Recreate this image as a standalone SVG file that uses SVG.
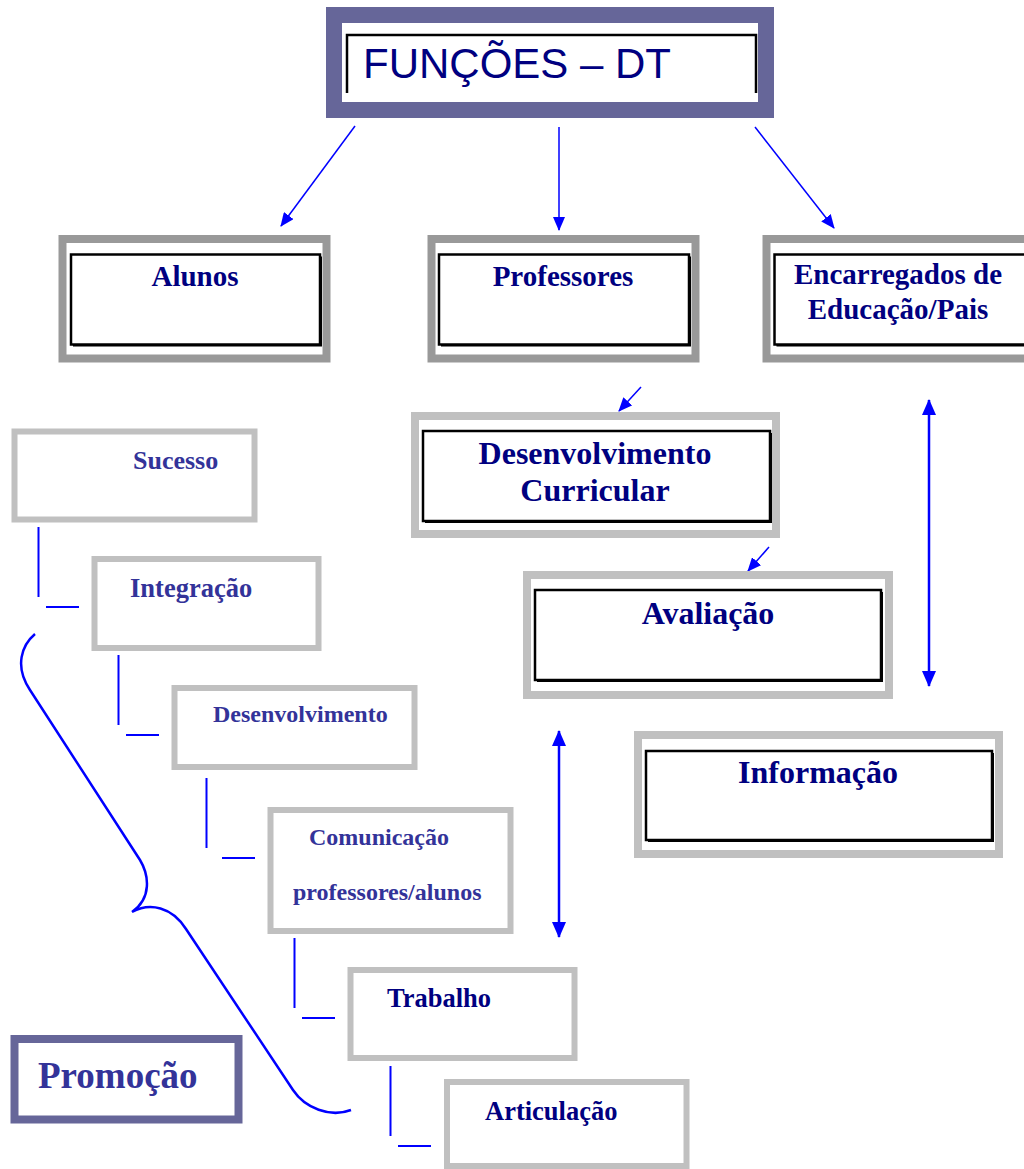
<svg xmlns="http://www.w3.org/2000/svg" width="1024" height="1169" viewBox="0 0 1024 1169">
<style>
  .frameP { fill: none; stroke: #666699; }
  .frameD { fill: #ffffff; stroke: #999999; stroke-width: 8; }
  .frameL { fill: #ffffff; stroke: #c0c0c0; stroke-width: 8; }
  .frameS { fill: #ffffff; stroke: #c0c0c0; stroke-width: 6; }
  .inner { fill: #ffffff; stroke: #000000; stroke-width: 2.5; }
  .shadow { fill: #000000; }
  .t { font-family: "Liberation Serif", "Times New Roman", serif; font-weight: bold; }
  .navy { fill: #000080; }
  .slate { fill: #333399; }
  .arr { stroke: #0000ff; stroke-width: 1.5; fill: none; }
  .dbl { stroke: #0000ff; stroke-width: 2.5; fill: none; }
  .tree { stroke: #0000ff; stroke-width: 2; fill: none; }
  .brace { stroke: #0000ff; stroke-width: 2.5; fill: none; }
</style>
<defs>
  <marker id="ah" markerUnits="userSpaceOnUse" markerWidth="14" markerHeight="12" viewBox="0 0 14 12" refX="13" refY="6" orient="auto">
    <path d="M0,0 L14,6 L0,12 Z" fill="#0000ff"/>
  </marker>
  <marker id="ahb" markerUnits="userSpaceOnUse" markerWidth="16" markerHeight="14" viewBox="0 0 16 14" refX="15" refY="7" orient="auto">
    <path d="M0,0 L16,7 L0,14 Z" fill="#0000ff"/>
  </marker>
  <marker id="ahbs" markerUnits="userSpaceOnUse" markerWidth="16" markerHeight="14" viewBox="0 0 16 14" refX="1" refY="7" orient="auto">
    <path d="M16,0 L0,7 L16,14 Z" fill="#0000ff"/>
  </marker>
</defs>
<rect width="1024" height="1169" fill="#ffffff"/>

<g id="connectors">
  <line class="arr" x1="355" y1="126" x2="281" y2="226" marker-end="url(#ah)"/>
  <line class="arr" x1="559" y1="127" x2="559" y2="230" marker-end="url(#ah)"/>
  <line class="arr" x1="755" y1="127" x2="834" y2="228" marker-end="url(#ah)"/>
  <line class="arr" x1="641" y1="387" x2="619" y2="411" marker-end="url(#ah)"/>
  <line class="arr" x1="769" y1="547" x2="748" y2="571" marker-end="url(#ah)"/>
  <line class="dbl" x1="929" y1="400" x2="929" y2="686" marker-start="url(#ahbs)" marker-end="url(#ahb)"/>
  <line class="dbl" x1="559" y1="731" x2="559" y2="937" marker-start="url(#ahbs)" marker-end="url(#ahb)"/>
  <path class="tree" d="M38.5,527 V597 M46,607 H79"/>
  <path class="tree" d="M118.5,655 V725 M126,735 H159"/>
  <path class="tree" d="M206.5,778 V848 M222,858 H255"/>
  <path class="tree" d="M294.5,938 V1008 M302,1018 H335"/>
  <path class="tree" d="M390.5,1066 V1136 M398,1146 H431"/>
  <path class="brace" d="M35,634 C22,645 14,666 30,690 L140,860 C149,875 152,898 132,912 C150,902 172,907 186,929 L293,1090 C305,1108 330,1118 351,1110"/>
</g>

<g id="node-funcoes">
  <rect class="frameP" x="334" y="15" width="432" height="95" stroke-width="16"/>
  <path d="M347,93 V35 H756 V93" fill="none" stroke="#000000" stroke-width="2.5"/>
  <text x="363" y="78" font-family="Liberation Sans, Arial, sans-serif" font-size="42" fill="#000080">FUNÇÕES – DT</text>
</g>

<g id="node-alunos">
  <rect class="frameD" x="62.5" y="239" width="264" height="119.5"/>
  <rect class="shadow" x="73" y="256.5" width="249" height="90"/>
  <rect class="inner" x="71" y="254.5" width="249" height="90"/>
  <text class="t navy" x="195" y="286" font-size="29" text-anchor="middle">Alunos</text>
</g>

<g id="node-professores">
  <rect class="frameD" x="431.5" y="239" width="264" height="119.5"/>
  <rect class="shadow" x="441" y="256.5" width="250" height="90"/>
  <rect class="inner" x="439" y="254.5" width="250" height="90"/>
  <text class="t navy" x="563" y="286" font-size="29" text-anchor="middle">Professores</text>
</g>

<g id="node-encarregados">
  <rect class="frameD" x="766.5" y="239" width="280" height="119.5"/>
  <rect class="shadow" x="776.5" y="256.5" width="260" height="90"/>
  <rect class="inner" x="774.5" y="254.5" width="260" height="90"/>
  <text class="t navy" x="898" y="284" font-size="29" text-anchor="middle">Encarregados de</text>
  <text class="t navy" x="898" y="319" font-size="29" text-anchor="middle">Educação/Pais</text>
</g>

<g id="node-desenvolvimento-curricular">
  <rect class="frameL" x="415" y="416" width="361" height="118"/>
  <rect class="shadow" x="425" y="433" width="347" height="90"/>
  <rect class="inner" x="423" y="431" width="347" height="90"/>
  <text class="t navy" x="595" y="464" font-size="32" text-anchor="middle">Desenvolvimento</text>
  <text class="t navy" x="595" y="501" font-size="32" text-anchor="middle">Curricular</text>
</g>

<g id="node-avaliacao">
  <rect class="frameL" x="527" y="575" width="362" height="120"/>
  <rect class="shadow" x="537" y="592" width="346" height="90"/>
  <rect class="inner" x="535" y="590" width="346" height="90"/>
  <text class="t navy" x="708" y="624" font-size="32" text-anchor="middle">Avaliação</text>
</g>

<g id="node-informacao">
  <rect class="frameL" x="638" y="735" width="361" height="119"/>
  <rect class="shadow" x="648" y="753" width="346" height="89"/>
  <rect class="inner" x="646" y="751" width="346" height="89"/>
  <text class="t navy" x="818" y="783" font-size="32" text-anchor="middle">Informação</text>
</g>

<g id="node-sucesso">
  <rect class="frameS" x="14.5" y="431.5" width="240" height="88"/>
  <text class="t slate" x="133" y="469" font-size="26">Sucesso</text>
</g>

<g id="node-integracao">
  <rect class="frameS" x="94.5" y="559" width="224" height="89"/>
  <text class="t slate" x="130" y="597" font-size="26.5">Integração</text>
</g>

<g id="node-desenvolvimento">
  <rect class="frameS" x="174.5" y="688" width="240" height="79"/>
  <text class="t slate" x="213" y="722" font-size="24">Desenvolvimento</text>
</g>

<g id="node-comunicacao">
  <rect class="frameS" x="270.5" y="810" width="240" height="121"/>
  <text class="t slate" x="309" y="845" font-size="24">Comunicação</text>
  <text class="t slate" x="293" y="900" font-size="24">professores/alunos</text>
</g>

<g id="node-trabalho">
  <rect class="frameS" x="350.5" y="970" width="224" height="88"/>
  <text class="t navy" x="387" y="1007" font-size="26.5">Trabalho</text>
</g>

<g id="node-articulacao">
  <rect class="frameS" x="447" y="1082" width="239.5" height="84"/>
  <text class="t navy" x="485" y="1120" font-size="26.5">Articulação</text>
</g>

<g id="node-promocao">
  <rect class="frameP" x="14.5" y="1039" width="224" height="80.5" stroke-width="8"/>
  <text class="t slate" x="38" y="1088" font-size="37">Promoção</text>
</g>
</svg>
